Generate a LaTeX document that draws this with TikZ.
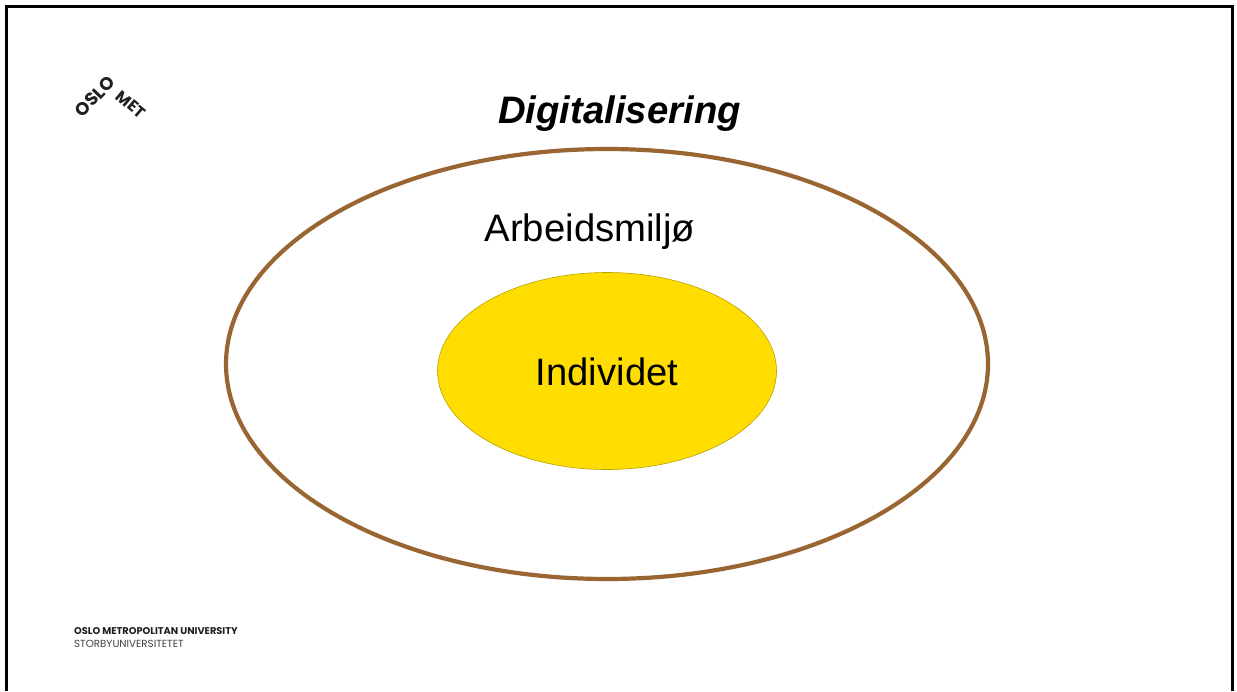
\documentclass[tikz,border=0pt]{standalone}
\usetikzlibrary{shapes.geometric}
\usepackage{fontspec}
\setmainfont{Liberation Sans}
\newfontfamily\logofont{Poppins}
\definecolor{ringbrown}{HTML}{996633}
\definecolor{coreyellow}{HTML}{FFDD00}
\definecolor{coreline}{HTML}{B8A200}
\definecolor{logoink}{HTML}{231F20}
\tikzset{
  ring/.style={shape=ellipse,draw=ringbrown,line width=4.2pt,inner sep=0pt,outer sep=0pt,minimum width=762pt,minimum height=430pt},
  core/.style={shape=ellipse,draw=coreline,fill=coreyellow,line width=0.6pt,inner sep=0pt,outer sep=0pt,minimum width=339pt,minimum height=197pt},
  bigtext/.style={inner sep=0pt,anchor=center,text=black},
  logotext/.style={inner sep=0pt,anchor=center,text=logoink,font=\logofont\bfseries\fontsize{18}{18}\selectfont},
  footbold/.style={inner sep=0pt,anchor=west,text=logoink,font=\logofont\bfseries\fontsize{9.8}{10}\selectfont},
  footlight/.style={inner sep=0pt,anchor=west,text=logoink!85,font=\logofont\fontsize{10.3}{10}\selectfont},
  frameline/.style={black,line width=3pt,line cap=butt,line join=miter}
}
\begin{document}
\begin{tikzpicture}[x=1pt,y=-1pt]
\useasboundingbox (0,0) rectangle (1237,691);
\fill[white] (0,0) rectangle (1237,691);
\coordinate (fa) at (6.5,691);
\coordinate (fb) at (6.5,6.5);
\coordinate (fc) at (1232.5,6.5);
\coordinate (fd) at (1232.5,691);
\draw[frameline] (fa) -- (fb) -- (fc) -- (fd);
\node[ring] (milieu) at (607,364) {};
\node[core] (person) at (607,371) {};
\node[bigtext,font=\fontsize{38.2}{40}\selectfont] (individ) at (607,372) {Individet};
\node[bigtext,font=\fontsize{38.3}{40}\selectfont] (arbeid) at (590,232) {Arbeidsmiljø};
\node[bigtext,font=\bfseries\itshape\fontsize{38.3}{40}\selectfont] (digital) at (619.5,114) {Digitalisering};
\node[logotext,rotate=46] (logoa) at (95,96.5) {OSLO};
\node[logotext,rotate=-40,font=\logofont\bfseries\fontsize{16}{16}\selectfont] (logob) at (131,104.5) {MET};
\node[footbold] (foota) at (74,631) {OSLO METROPOLITAN UNIVERSITY};
\node[footlight] (footb) at (74,643.5) {STORBYUNIVERSITETET};
\end{tikzpicture}
\end{document}
